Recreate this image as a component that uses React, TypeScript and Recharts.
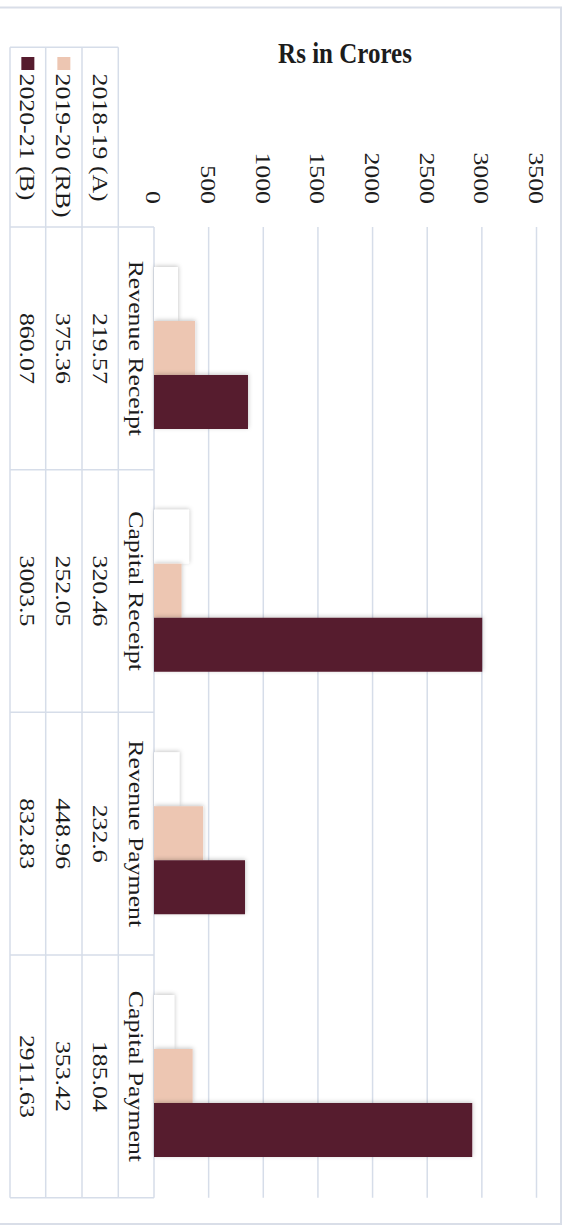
import { BarChart, Bar, XAxis, YAxis, CartesianGrid, Rectangle } from 'recharts';

const categories = ['Revenue Receipt', 'Capital Receipt', 'Revenue Payment', 'Capital Payment'];
const actual1819 = [219.57, 320.46, 232.6, 185.04];
const revised1920 = [375.36, 252.05, 448.96, 353.42];
const budget2021 = [860.07, 3003.5, 832.83, 2911.63];
const valueTicks = [0, 500, 1000, 1500, 2000, 2500, 3000, 3500];
const seriesNames = ['2018-19 (A)', '2019-20 (RB)', '2020-21 (B)'];

const data = categories.map((name, i) => ({
  name,
  a: actual1819[i],
  rb: revised1920[i],
  b: budget2021[i]
}));

// bars top to bottom inside each group; table columns are laid out in reverse (B, RB, A)
const series = [
  { key: 'a', name: seriesNames[0], color: '#FFFFFF' },
  { key: 'rb', name: seriesNames[1], color: '#EDC6B2' },
  { key: 'b', name: seriesNames[2], color: '#561C2E' }
];

const W = 569;
const H = 1225;
const FONT = "'Liberation Serif', 'Times New Roman', serif";
const GRID = '#D6DDE9';
const TEXT = '#1c1c1c';

// table column edges, left to right: 2020-21 | 2019-20 | 2018-19 | category
const colEdges = [10, 45.7, 82, 118.3, 154];
const colCenter = (i: number) => (colEdges[i] + colEdges[i + 1]) / 2;
const seriesCol: Record<string, number> = { b: 0, rb: 1, a: 2 };
const tableTop = 47.3;
const plotTop = 227;
const plotBottom = 1197.7;
const xAxisH = 30;

const VText = ({ x, y, anchor = 'middle', children }: any) => (
  <text
    transform={`translate(${x},${y}) rotate(90) scale(1.2,1)`}
    textAnchor={anchor}
    dy="0.35em"
    fontSize={21.5}
    fontFamily={FONT}
    fill={TEXT}
  >
    {children}
  </text>
);

const ValueTick = ({ x, payload }: any) => (
  <VText x={x} y={204} anchor="end">{payload.value}</VText>
);

const RowTick = ({ y, payload }: any) => {
  const row: any = data.find(d => d.name === payload.value);
  if (!row) return null;
  const band = (plotBottom - plotTop) / categories.length;
  return (
    <g>
      <line x1={colEdges[0]} x2={colEdges[4]} y1={y + band / 2} y2={y + band / 2} stroke={GRID} strokeWidth={1.5} />
      <VText x={colCenter(3)} y={y}>{row.name}</VText>
      {series.map(s => (
        <VText key={s.key} x={colCenter(seriesCol[s.key])} y={y}>{String(row[s.key])}</VText>
      ))}
    </g>
  );
};

const shadowShape = (props: any) => <Rectangle {...props} filter="url(#barShadow)" />;

export default function App() {
  return (
    <div style={{ position: 'absolute', left: 0, top: 0, width: W, height: H, background: '#fff' }}>
      <svg width={W} height={H} style={{ position: 'absolute', left: 0, top: 0 }}>
        <defs>
          <filter id="barShadow" x="-20%" y="-20%" width="140%" height="140%">
            <feDropShadow dx="0.5" dy="-1" stdDeviation="2" floodColor="#000" floodOpacity="0.22" />
          </filter>
        </defs>
        <rect x={-2} y={7.5} width={563} height={1216.5} fill="#fff" stroke="#D9DEE8" strokeWidth={2} />
        <text
          transform="translate(345,63) scale(1,1.2)"
          textAnchor="middle"
          fontSize={25}
          fontWeight="bold"
          fontFamily={FONT}
          fill={TEXT}
        >
          Rs in Crores
        </text>
      </svg>
      <BarChart
        width={W}
        height={H}
        data={data}
        layout="vertical"
        barGap={0}
        barCategoryGap={40}
        margin={{ top: plotTop - xAxisH, right: W - 536.5, bottom: H - plotBottom, left: colEdges[0] }}
        style={{ position: 'absolute', left: 0, top: 0 }}
      >
        <CartesianGrid horizontal={false} stroke={GRID} strokeWidth={1.5} />
        <XAxis
          type="number"
          orientation="top"
          domain={[0, 3500]}
          ticks={valueTicks}
          height={xAxisH}
          axisLine={false}
          tickLine={false}
          interval={0}
          tick={<ValueTick />}
        />
        <YAxis
          type="category"
          dataKey="name"
          width={colEdges[4] - colEdges[0]}
          axisLine={false}
          tickLine={false}
          interval={0}
          tick={<RowTick />}
        />
        {series.map(s => (
          <Bar
            key={s.key}
            dataKey={s.key}
            name={s.name}
            fill={s.color}
            shape={shadowShape}
            isAnimationActive={false}
          />
        ))}
      </BarChart>
      <svg width={W} height={H} style={{ position: 'absolute', left: 0, top: 0, pointerEvents: 'none' }}>
        {/* table frame */}
        <line x1={colEdges[0]} x2={colEdges[3]} y1={tableTop} y2={tableTop} stroke={GRID} strokeWidth={1.5} />
        <line x1={colEdges[0]} x2={colEdges[4]} y1={plotTop} y2={plotTop} stroke={GRID} strokeWidth={1.5} />
        {colEdges.slice(0, 4).map(x => (
          <line key={x} x1={x} x2={x} y1={tableTop} y2={plotBottom} stroke={GRID} strokeWidth={1.5} />
        ))}
        {/* legend header */}
        {series.map(s => {
          const cx = colCenter(seriesCol[s.key]);
          return (
            <g key={s.key}>
              <rect x={cx - 6.5} y={57} width={13} height={13} fill={s.color} />
              <VText x={cx} y={73.5} anchor="start">{s.name}</VText>
            </g>
          );
        })}
      </svg>
    </div>
  );
}
